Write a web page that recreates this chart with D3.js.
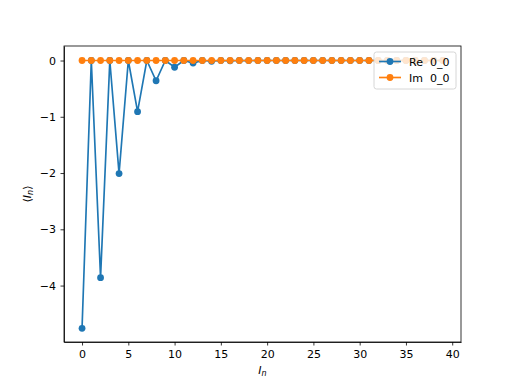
<!DOCTYPE html>
<html lang="en">
<head>
<meta charset="UTF-8">
<title>Re / Im 0_0</title>
<style>
body { margin: 0; background: #fff; }
text { font-family: "DejaVu Sans", sans-serif; }
.axis path, .axis line { stroke: #000; stroke-width: 0.8; }
.axis text { font-size: 11px; fill: #000; }
</style>
</head>
<body>
<svg width="512" height="384"></svg>
<script src="https://d3js.org/d3.v7.min.js"></script>
<script>

// data
var nValues = d3.range(0, 40);
var reValues = [-4.76, 0, -3.86, 0, -2.01, 0, -0.91, 0, -0.36, 0,
                -0.12, 0, -0.045, 0, -0.013, 0, -0.004, 0, -0.001, 0,
                0, 0, 0, 0, 0, 0, 0, 0, 0, 0,
                0, 0, 0, 0, 0, 0, 0, 0, 0, 0];
var imValues = nValues.map(function() { return 0; });
var xTicks = [0, 5, 10, 15, 20, 25, 30, 35, 40];
var yTicks = [0, -1, -2, -3, -4];
var seriesNames = ['Re  0_0', 'Im  0_0'];
var colors = ['#1f77b4', '#ff7f0e'];

var svg = d3.select('svg');

var margin = { top: 46, right: 51, bottom: 42, left: 64 };
var width = 512 - margin.left - margin.right;
var height = 384 - margin.top - margin.bottom;

var x = d3.scaleLinear().domain([-1.95, 40.95]).range([0, width]);
var y = d3.scaleLinear().domain([-5.003, 0.258]).range([height, 0]);

var g = svg.append('g')
    .attr('transform', 'translate(' + margin.left + ',' + margin.top + ')');

// axes
g.append('g')
    .attr('class', 'axis')
    .attr('transform', 'translate(0,' + height + ')')
    .call(d3.axisBottom(x).tickValues(xTicks).tickSize(3.5).tickPadding(4.5).tickSizeOuter(0));

g.append('g')
    .attr('class', 'axis')
    .call(d3.axisLeft(y).tickValues(yTicks).tickSize(3.5).tickPadding(4.5).tickSizeOuter(0)
        .tickFormat(function(d) { return d === 0 ? '0' : '\u2212' + Math.abs(d); }));

// frame
g.append('rect')
    .attr('width', width)
    .attr('height', height)
    .attr('fill', 'none')
    .attr('stroke', '#000')
    .attr('stroke-width', 0.8);

var line = d3.line()
    .x(function(d) { return x(d[0]); })
    .y(function(d) { return y(d[1]); });

var series = [
    nValues.map(function(n, i) { return [n, reValues[i]]; }),
    nValues.map(function(n, i) { return [n, imValues[i]]; })
];

series.forEach(function(s, k) {
    g.append('path')
        .datum(s)
        .attr('d', line)
        .attr('fill', 'none')
        .attr('stroke', colors[k])
        .attr('stroke-width', 1.67);

    g.selectAll('.dot' + k)
        .data(s)
        .enter().append('circle')
        .attr('cx', function(d) { return x(d[0]); })
        .attr('cy', function(d) { return y(d[1]); })
        .attr('r', 3.4)
        .attr('fill', colors[k]);
});

// legend
var legend = g.append('g')
    .attr('transform', 'translate(' + (width - 87) + ',6)');

legend.append('rect')
    .attr('width', 82)
    .attr('height', 37)
    .attr('rx', 2.5)
    .attr('fill', '#fff')
    .attr('fill-opacity', 0.8)
    .attr('stroke', '#ccc')
    .attr('stroke-width', 0.8);

seriesNames.forEach(function(name, k) {
    var ly = 9.5 + k * 16;
    legend.append('line')
        .attr('x1', 5).attr('x2', 27)
        .attr('y1', ly).attr('y2', ly)
        .attr('stroke', colors[k])
        .attr('stroke-width', 1.67);
    legend.append('circle')
        .attr('cx', 16).attr('cy', ly).attr('r', 3.4)
        .attr('fill', colors[k]);
    legend.append('text')
        .attr('x', 35).attr('y', ly + 4)
        .style('font-size', '11px')
        .style('white-space', 'pre')
        .text(name);
});

// axis labels
svg.append('text')
    .attr('x', margin.left + x(19.5))
    .attr('y', 374)
    .attr('text-anchor', 'middle')
    .style('font-size', '11px')
    .style('font-style', 'italic')
    .html('I<tspan dy="2" font-size="8px">n</tspan>');

svg.append('text')
    .attr('transform', 'translate(31,' + (margin.top + height / 2) + ') rotate(-90)')
    .attr('text-anchor', 'middle')
    .style('font-size', '11px')
    .html('\u27E8<tspan font-style="italic">I</tspan><tspan dy="2" font-size="8px" font-style="italic">n</tspan><tspan dy="-2">\u27E9</tspan>');

</script>
</body>
</html>
